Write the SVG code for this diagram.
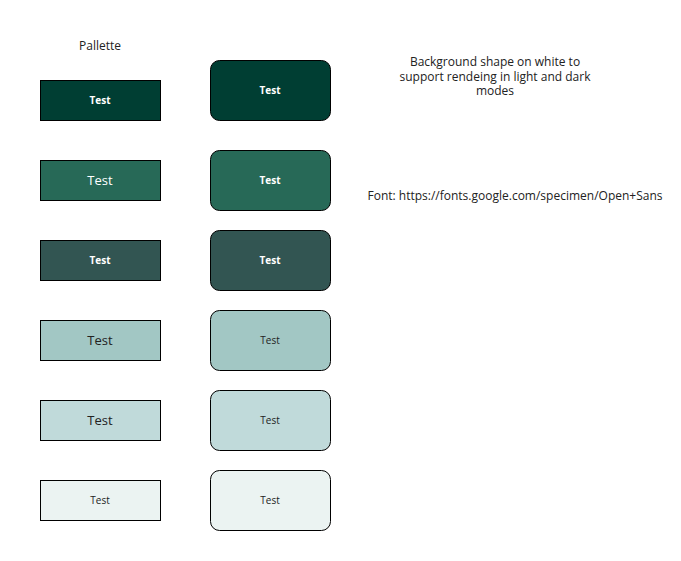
<svg xmlns="http://www.w3.org/2000/svg" width="681" height="561" viewBox="0 0 681 561">
<style>
text{font-family:"Open Sans","Noto Sans","Liberation Sans",sans-serif;text-anchor:middle;dominant-baseline:central}
.lbl{font-size:12px;fill:#222}
.n rect{stroke:#000;stroke-width:1}
.b{font-size:10px;font-weight:bold;fill:#fff}
.w14{font-size:13px;fill:#fff}
.d14{font-size:13px;fill:#222}
.d10{font-size:10px;fill:#222}
</style>
<rect width="681" height="561" fill="#fff"/>
<g id="connectors"/>
<text class="lbl" x="100" y="45">Pallette</text>
<text class="lbl" x="495" y="61"><tspan x="495" y="61">Background shape on white to</tspan><tspan x="495" y="75.5">support rendeing in light and dark</tspan><tspan x="495" y="90">modes</tspan></text>
<text class="lbl" x="515" y="195">Font: https://fonts.google.com/specimen/Open+Sans</text>
<g id="l1" class="n"><rect x="40.5" y="80.5" width="120" height="40" fill="#003E33"/><text class="b" x="100" y="100">Test</text></g>
<g id="l2" class="n"><rect x="40.5" y="160.5" width="120" height="40" fill="#276957"/><text class="w14" x="100" y="180">Test</text></g>
<g id="l3" class="n"><rect x="40.5" y="240.5" width="120" height="40" fill="#325552"/><text class="b" x="100" y="260">Test</text></g>
<g id="l4" class="n"><rect x="40.5" y="320.5" width="120" height="40" fill="#A2C7C4"/><text class="d14" x="100" y="340">Test</text></g>
<g id="l5" class="n"><rect x="40.5" y="400.5" width="120" height="40" fill="#C0DADA"/><text class="d14" x="100" y="420">Test</text></g>
<g id="l6" class="n"><rect x="40.5" y="480.5" width="120" height="40" fill="#EBF3F2"/><text class="d10" x="100" y="500">Test</text></g>
<g id="r1" class="n"><rect x="210.5" y="60.5" width="120" height="60" rx="9" fill="#003E33"/><text class="b" x="270" y="90">Test</text></g>
<g id="r2" class="n"><rect x="210.5" y="150.5" width="120" height="60" rx="9" fill="#276957"/><text class="b" x="270" y="180">Test</text></g>
<g id="r3" class="n"><rect x="210.5" y="230.5" width="120" height="60" rx="9" fill="#325552"/><text class="b" x="270" y="260">Test</text></g>
<g id="r4" class="n"><rect x="210.5" y="310.5" width="120" height="60" rx="9" fill="#A2C7C4"/><text class="d10" x="270" y="340">Test</text></g>
<g id="r5" class="n"><rect x="210.5" y="390.5" width="120" height="60" rx="9" fill="#C0DADA"/><text class="d10" x="270" y="420">Test</text></g>
<g id="r6" class="n"><rect x="210.5" y="470.5" width="120" height="60" rx="9" fill="#EBF3F2"/><text class="d10" x="270" y="500">Test</text></g>
</svg>
